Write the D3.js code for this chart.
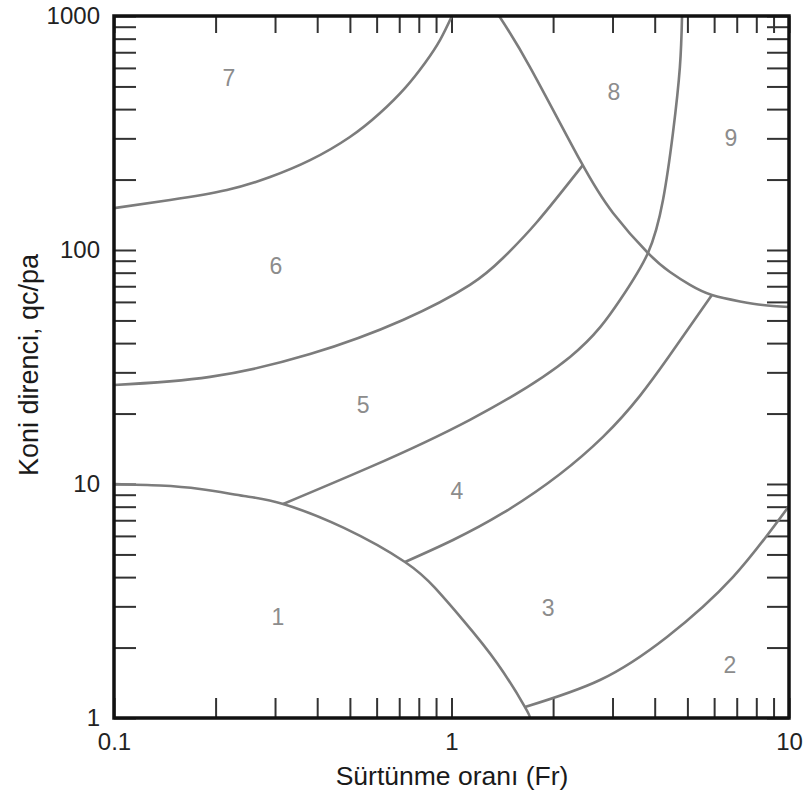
<!DOCTYPE html>
<html>
<head>
<meta charset="utf-8">
<script src="https://cdn.jsdelivr.net/npm/d3@7"></script>
<style>
body{margin:0;background:#fff;}
text{font-family:"Liberation Sans",Arial,sans-serif;}
</style>
</head>
<body>
<div id="container"></div>
<script>
// axis ranges and labelled ticks
const frDomain=[0.1,10];
const qDomain=[1,1000];
const xTickLabels=[0.1,1,10];
const yTickLabels=[1,10,100,1000];

// zone boundaries, [Fr, qc/pa]
const zone7Bound=[[0.1,151],[0.1466,163.6],[0.216,180.5],[0.29,205],[0.381,242],[0.5,304],[0.614,385],[0.728,492],[0.8345,630],[0.9245,789],[1.003,1000]];
const zone6Bound=[[0.1,26.5],[0.1926,28.7],[0.381,35.9],[0.718,50.2],[1.134,70.9],[1.421,92.4],[1.792,131.7],[2.453,231]];
const zone5Bound=[[0.317,8.21],[0.573,11.8],[1.134,18.8],[2.245,34.9],[3.157,61.1],[3.82,97.1],[4.233,163.6],[4.53,316],[4.75,605],[4.82,1000]];
const zone4Bound=[[0.728,4.64],[1.421,7.52],[2.811,15.9],[4.38,34.6],[5.91,64.2]];
const zone1Bound=[[0.1,10],[0.1369,9.85],[0.1798,9.52],[0.2427,8.89],[0.317,8.21],[0.48,6.49],[0.728,4.64],[0.8936,3.594],[1.082,2.62],[1.364,1.718],[1.651,1.114],[1.708,1]];
const zone2Bound=[[1.651,1.114],[2.754,1.453],[4.35,2.22],[6.82,4.0],[10,8.05]];
const zone8Bound=[[1.384,1000],[1.708,605],[2.403,242],[3.01,144],[3.82,97.1],[4.44,80.5],[5.09,70.9],[5.91,64.2],[7.16,60.3],[8.37,58.2],[10,57.1]];
const boundaries=[zone7Bound,zone6Bound,zone5Bound,zone4Bound,zone1Bound,zone2Bound,zone8Bound];

// zone numbers and where they sit
const zoneNames=["1","2","3","4","5","6","7","8","9"];
const zoneFr=[0.306,6.68,1.932,1.038,0.547,0.302,0.219,3.03,6.73];
const zoneQ=[2.70,1.685,2.95,9.33,21.8,85.5,543,473,301];

const w=811;
const h=797;
const margin={top:16, left:114, bottom:79, right:22};
const graphWidth=w-margin.left-margin.right;
const graphHeight=h-margin.top-margin.bottom;

const svg=d3.select("#container").append("svg").attr("width",w).attr("height",h);
const graph=svg.append("g").attr("transform",`translate(${margin.left},${margin.top})`);

const xScale=d3.scaleLog().domain(frDomain).range([0,graphWidth]);
const yScale=d3.scaleLog().domain(qDomain).range([graphHeight,0]);

//Minor and major ticks, 1..9 per decade.
function logTicks(lo,hi){
	const out=[];
	for(let k=Math.round(Math.log10(lo));k<Math.round(Math.log10(hi));k++){
		for(let m=1;m<10;m++) out.push(+(m*Math.pow(10,k)).toPrecision(3));
	}
	out.push(hi);
	return out;
}
const xTicks=logTicks(frDomain[0],frDomain[1]);
const yTicks=logTicks(qDomain[0],qDomain[1]);

const fmtX=(d)=>xTickLabels.includes(d)?String(d):"";
const fmtY=(d)=>yTickLabels.includes(d)?String(d):"";

function styleAxis(g){
	g.select(".domain").remove();
	g.selectAll(".tick line").attr("stroke","#333").attr("stroke-width",2);
	g.selectAll(".tick text").attr("fill","#222").style("font-size","24px");
}

graph.append("g").attr("transform",`translate(0,${graphHeight})`)
	.call(d3.axisBottom(xScale).tickValues(xTicks).tickSize(-20).tickPadding(15).tickFormat(fmtX))
	.call(styleAxis);
graph.append("g")
	.call(d3.axisTop(xScale).tickValues(xTicks).tickSize(-17).tickFormat(""))
	.call(styleAxis);
graph.append("g")
	.call(d3.axisLeft(yScale).tickValues(yTicks).tickSize(-22).tickPadding(14).tickFormat(fmtY))
	.call(styleAxis);
graph.append("g").attr("transform",`translate(${graphWidth},0)`)
	.call(d3.axisRight(yScale).tickValues(yTicks).tickSize(-22).tickFormat(""))
	.call(styleAxis);

// clip for the boundary curves
svg.append("clipPath").attr("id","plotclip").append("rect")
	.attr("width",graphWidth).attr("height",graphHeight);

const line=d3.line()
	.x((d)=>xScale(d[0]))
	.y((d)=>yScale(d[1]))
	.curve(d3.curveNatural);

graph.append("g").attr("clip-path","url(#plotclip)")
	.selectAll("path")
	.data(boundaries)
	.enter()
	.append("path")
		.attr("d",line)
		.attr("fill","none")
		.attr("stroke","#7c7c7c")
		.attr("stroke-width",2.6);

graph.selectAll(".zone")
	.data(zoneNames)
	.enter()
	.append("text")
		.attr("class","zone")
		.attr("x",(d,i)=>xScale(zoneFr[i]))
		.attr("y",(d,i)=>yScale(zoneQ[i]))
		.attr("dy","0.35em")
		.attr("text-anchor","middle")
		.attr("fill","#8c8c8c")
		.style("font-size","23px")
		.text((d)=>d);

// frame
graph.append("rect")
	.attr("width",graphWidth)
	.attr("height",graphHeight)
	.attr("fill","none")
	.attr("stroke","#111")
	.attr("stroke-width",3.5);

svg.append("text")
	.attr("x",452)
	.attr("y",785)
	.attr("text-anchor","middle")
	.attr("fill","#1a1a1a")
	.style("font-size","26.5px")
	.text("Sürtünme oranı (Fr)");

svg.append("text")
	.attr("transform",`translate(38,${365}) rotate(-90)`)
	.attr("text-anchor","middle")
	.attr("fill","#1a1a1a")
	.style("font-size","27px")
	.text("Koni direnci, qc/pa");
</script>
</body>
</html>
